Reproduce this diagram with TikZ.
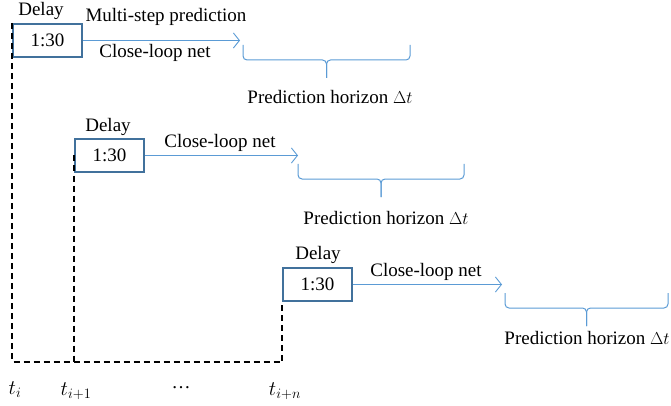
\documentclass[tikz,border=0pt]{standalone}
\usepackage{fontspec}
\setmainfont{Liberation Serif}
\usetikzlibrary{positioning,arrows.meta}
\definecolor{boxblue}{HTML}{41719C}
\definecolor{lineblue}{HTML}{5B9BD5}
\tikzset{
	delaybox/.style={draw=boxblue, line width=1.3pt, minimum width=69pt, minimum height=33pt, inner sep=0pt},
	netarrow/.style={draw=lineblue, line width=0.9pt, -{Straight Barb[length=6pt,width=15pt,line width=0.9pt]}},
	horizon/.style={draw=lineblue, line width=1pt, rounded corners=4pt},
	timeline/.style={line width=1.8pt, dash pattern=on 6pt off 4pt},
	lbl/.style={inner sep=0pt, font=\fontsize{19}{22}\selectfont},
	tlbl/.style={inner sep=0pt, font=\fontsize{21}{24}\selectfont}
}

\begin{document}
\begin{tikzpicture}[x=1pt,y=-1pt]
	\useasboundingbox (0,0) rectangle (671,406);
	% delay boxes
	\node[delaybox, lbl] (box1) at (47.5,40.5) {1:30};
	\node[delaybox, lbl] (box2) at (109.5,155.5) {1:30};
	\node[delaybox, lbl] (box3) at (317.5,284.5) {1:30};
	\node[lbl] (d1) at (41,11) {Delay};
	\node[lbl] (d2) at (108,127) {Delay};
	\node[lbl] (d3) at (318,255) {Delay};
	% close-loop prediction
	\coordinate (e1) at (240,40.5);
	\coordinate (e2) at (298,155.5);
	\coordinate (e3) at (502,284.5);
	\draw[netarrow] (box1) -- (e1);
	\draw[netarrow] (box2) -- (e2);
	\draw[netarrow] (box3) -- (e3);
	\node[lbl] (m1) at (166,17) {Multi-step prediction};
	\node[lbl] (c1) at (155,53) {Close-loop net};
	\node[lbl] (c2) at (220,143) {Close-loop net};
	\node[lbl] (c3) at (426,272) {Close-loop net};
	% horizons
	\foreach \l/\r/\y in {243/410/45, 298/464/164, 505/668/293}
	{
		\draw[horizon] (\l,\y) -- (\l,\y+15) -- ({(\l+\r)/2},\y+15) -- ({(\l+\r)/2},\y+33);
		\draw[horizon] (\r,\y) -- (\r,\y+15) -- ({(\l+\r)/2},\y+15) -- ({(\l+\r)/2},\y+33);
	}
	\node[lbl] (p1) at (330,97) {Prediction horizon $\Delta t$};
	\node[lbl] (p2) at (386,218) {Prediction horizon $\Delta t$};
	\node[lbl] (p3) at (587,338) {Prediction horizon $\Delta t$};
	% time axis
	\coordinate (base) at (0,362);
	\draw[timeline] (box1.north west) |- (box3.south west |- base) -- (box3.south west);
	\draw[timeline] (box2.west) -- (box2.west |- base);
	\node[tlbl] (t1) at (15,390) {$t_i$};
	\node[tlbl] (t2) at (76,391) {$t_{i+1}$};
	\node[lbl] (t3) at (181,388) {…};
	\node[tlbl] (t4) at (285,391) {$t_{i+n}$};
\end{tikzpicture}
\end{document}
